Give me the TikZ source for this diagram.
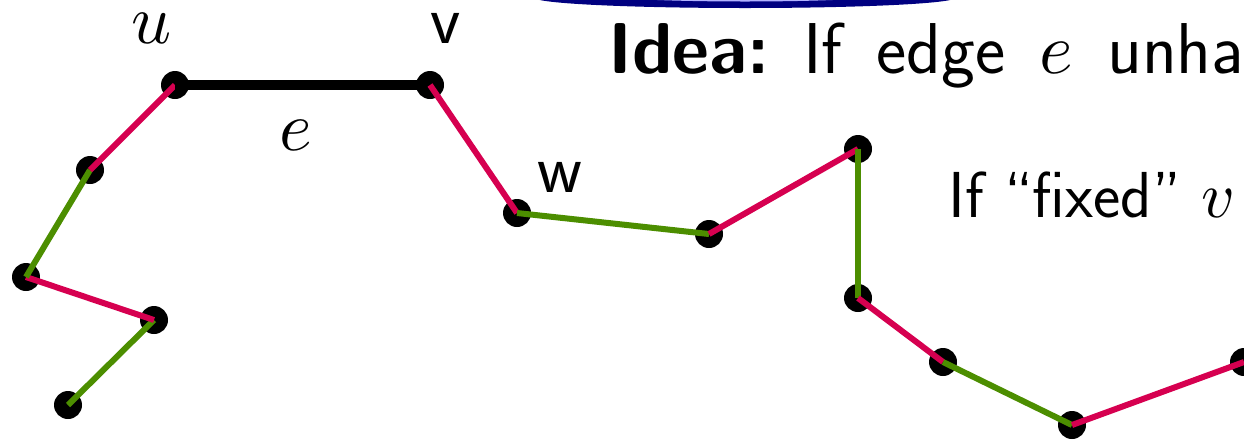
\documentclass[tikz,border=0pt]{standalone}
\DeclareFontFamily{OML}{cmm}{\skewchar\font'177}
\DeclareFontShape{OML}{cmm}{m}{it}{<->cmmi10}{}
\definecolor{ered}{RGB}{214,0,80}
\definecolor{egreen}{RGB}{76,142,0}
\definecolor{navyb}{RGB}{0,0,128}
\begin{document}
\frenchspacing
\begin{tikzpicture}[x=1pt,y=-1pt,
  dot/.style={circle,fill=black,minimum size=28pt,inner sep=0pt},
  redge/.style={draw=ered,line width=6pt},
  gedge/.style={draw=egreen,line width=6pt},
  bedge/.style={draw=black,line width=10pt},
  lab/.style={font=\fontsize{70}{84}\selectfont\sffamily,inner sep=0pt,anchor=base},
  txtA/.style={font=\fontsize{72}{86}\selectfont\sffamily,inner sep=0pt,anchor=base west},
  txtB/.style={font=\fontsize{65}{78}\selectfont\sffamily,inner sep=0pt,anchor=base west}]
\useasboundingbox (0,0) rectangle (1244,440);
\clip (0,0) rectangle (1244,440);
% blue shape at top
\fill[navyb] (745,-2.2) ellipse [x radius=210pt, y radius=10.2pt];
\fill[blue!30!white] (745,-6.5) ellipse [x radius=150pt, y radius=8pt];
% dots
\node[dot] (a) at (68,405) {};
\node[dot] (b) at (154,320) {};
\node[dot] (c) at (26,277) {};
\node[dot] (d) at (90,170) {};
\node[dot] (u) at (175,85) {};
\node[dot] (v) at (430,85) {};
\node[dot] (w) at (517,213) {};
\node[dot] (f) at (709,234) {};
\node[dot] (g) at (858,149) {};
\node[dot] (h) at (858,298) {};
\node[dot] (i) at (943,362) {};
\node[dot] (j) at (1072,425) {};
\node[dot] (k) at (1244,362) {};
% edges
\draw[gedge] (a.center) -- (b.center);
\draw[redge] (b.center) -- (c.center);
\draw[gedge] (c.center) -- (d.center);
\draw[redge] (d.center) -- (u.center);
\draw[bedge] (u.center) -- (v.center);
\draw[redge] (v.center) -- (w.center);
\draw[gedge] (w.center) -- (f.center);
\draw[redge] (f.center) -- (g.center);
\draw[gedge] (g.center) -- (h.center);
\draw[redge] (h.center) -- (i.center);
\draw[gedge] (i.center) -- (j.center);
\draw[redge] (j.center) -- (k.center);
% labels
\node[lab] (ul) at (152,43) {$u$};
\node[lab] (vl) at (446,43) {v};
\node[lab] (wl) at (560,192) {w};
\node[lab] (el) at (296,150) {$e$};
% text
\node[txtA] (t1) at (608,73) {\makebox[636pt][s]{\textbf{Idea:} If edge $e$ unha}};
\node[txtB] (t2) at (948,217) {If ``fixed'' $v$};
\end{tikzpicture}
\end{document}
